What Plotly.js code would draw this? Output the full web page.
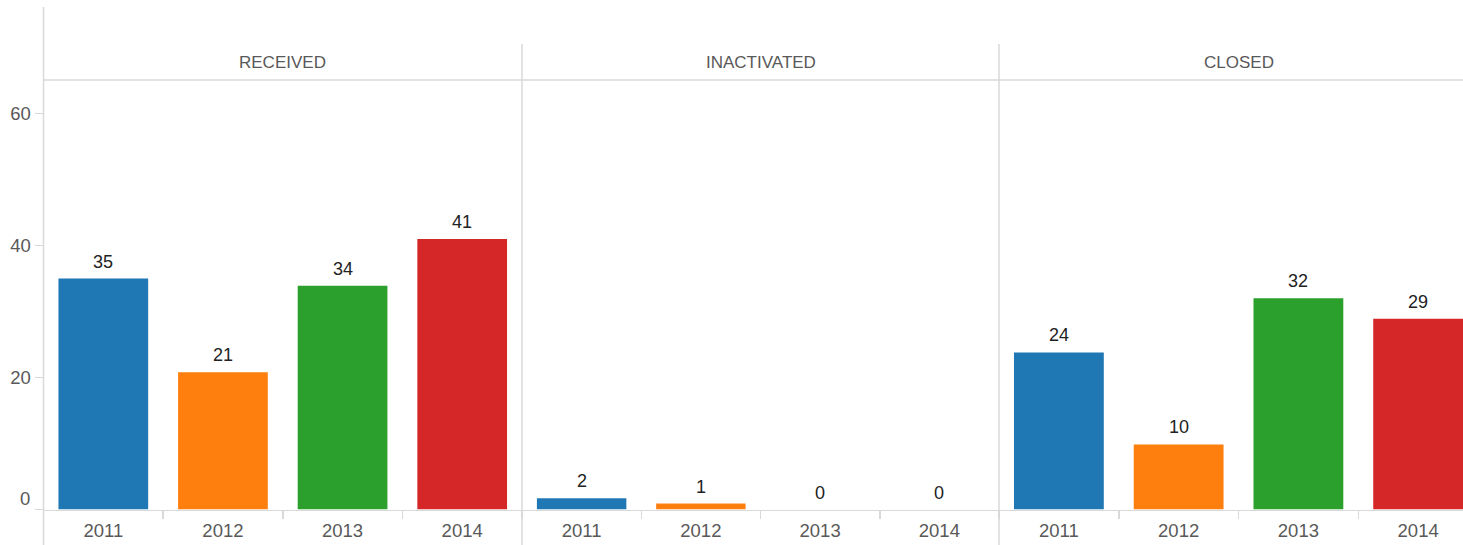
<!DOCTYPE html>
<html>
<head>
<meta charset="utf-8">
<script src="https://cdn.plot.ly/plotly-3.0.1.min.js"></script>
<style>html,body{margin:0;padding:0;background:#fff;}#chart{width:1463px;height:545px;}</style>
</head>
<body>
<div id="chart"></div>
<script>
var years = ['2011', '2012', '2013', '2014'];
var panels = ['RECEIVED', 'INACTIVATED', 'CLOSED'];
var receivedValues = [35, 20.8, 33.9, 41];
var inactivatedValues = [1.7, 0.9, 0, 0];
var closedValues = [23.8, 9.85, 32, 28.9];
var yearColors = ['#1f77b4', '#ff7f0e', '#2ca02c', '#d62728'];
var yTicks = [0, 20, 40, 60];

var W = 1463, H = 545;
var px = function (x) { return x / W; };
var py = function (y) { return (H - y) / H; };
var gridColor = '#d9d9d9';
var labelColor = '#595959';
var fontFam = 'Liberation Sans, Arial, sans-serif';

var seriesList = [receivedValues, inactivatedValues, closedValues];
var axisIds = ['x', 'x2', 'x3'];
var traces = seriesList.map(function (vals, i) {
  return {
    type: 'bar',
    x: years,
    y: vals,
    xaxis: axisIds[i],
    yaxis: 'y',
    marker: { color: yearColors, line: { width: 0 } },
    hoverinfo: 'x+y',
    showlegend: false
  };
});

var bounds = [43.5, 522, 999, 1463];
var lastRange = 3.5 - (1478 - 1463) / 119.5;

function xaxisDef(i) {
  return {
    domain: [px(bounds[i]), px(bounds[i + 1])],
    anchor: 'y',
    type: 'category',
    categoryorder: 'array',
    categoryarray: years,
    range: [-0.5, i === 2 ? lastRange : 3.5],
    showline: true,
    linecolor: gridColor,
    linewidth: 1.5,
    ticks: 'outside',
    tickson: 'boundaries',
    ticklen: 8,
    tickcolor: gridColor,
    tickwidth: 1.5,
    ticklabelstandoff: 4,
    showgrid: false,
    zeroline: false,
    tickfont: { family: fontFam, size: 18.5, color: labelColor },
    fixedrange: true
  };
}

var annotations = panels.map(function (p, i) {
  return {
    text: p,
    xref: 'paper', yref: 'paper',
    x: (px(bounds[i]) + px(i === 2 ? 1478 : bounds[i + 1])) / 2,
    y: py(62),
    xanchor: 'center', yanchor: 'middle',
    showarrow: false,
    font: { family: fontFam, size: 17, color: labelColor }
  };
});
seriesList.forEach(function (vals, i) {
  vals.forEach(function (v, j) {
    annotations.push({
      text: String(Math.round(v)),
      xref: axisIds[i], yref: 'y',
      x: years.indexOf(years[j]), y: v,
      xanchor: 'center', yanchor: 'bottom',
      yshift: 5,
      showarrow: false,
      font: { family: fontFam, size: 18, color: '#222' }
    });
  });
});
annotations.push({
  text: String(yTicks[0]),
  xref: 'paper', yref: 'y',
  x: px(32), y: 0,
  xanchor: 'right', yanchor: 'bottom',
  yshift: -1,
  showarrow: false,
  font: { family: fontFam, size: 18.5, color: labelColor }
});

var shapes = [
  { type: 'line', xref: 'paper', yref: 'paper', x0: px(43.5), x1: px(43.5), y0: py(7), y1: 0, line: { color: gridColor, width: 1.5 } },
  { type: 'line', xref: 'paper', yref: 'paper', x0: px(522), x1: px(522), y0: py(44), y1: 0, line: { color: gridColor, width: 1.5 } },
  { type: 'line', xref: 'paper', yref: 'paper', x0: px(999), x1: px(999), y0: py(44), y1: 0, line: { color: gridColor, width: 1.5 } },
  { type: 'line', xref: 'paper', yref: 'paper', x0: px(43.5), x1: 1, y0: py(80), y1: py(80), line: { color: gridColor, width: 1.5 } }
];

var layout = {
  width: W, height: H,
  margin: { l: 0, r: 0, t: 0, b: 0, pad: 0 },
  paper_bgcolor: '#fff', plot_bgcolor: 'rgba(0,0,0,0)',
  bargap: 0.25,
  showlegend: false,
  xaxis: xaxisDef(0),
  xaxis2: xaxisDef(1),
  xaxis3: xaxisDef(2),
  yaxis: {
    domain: [py(509.5), py(80)],
    anchor: 'x',
    range: [0, (509.5 - 80) / 6.6],
    tickvals: yTicks,
    ticktext: yTicks.map(function (v) { return v === 0 ? '' : String(v); }),
    ticks: 'outside',
    ticklen: 8,
    tickcolor: gridColor,
    tickwidth: 1.5,
    showline: false,
    showgrid: false,
    zeroline: false,
    tickfont: { family: fontFam, size: 18.5, color: labelColor },
    fixedrange: true
  },
  annotations: annotations,
  shapes: shapes,
  font: { family: fontFam }
};

Plotly.newPlot('chart', traces, layout, { displayModeBar: false, staticPlot: true });
</script>
</body>
</html>
